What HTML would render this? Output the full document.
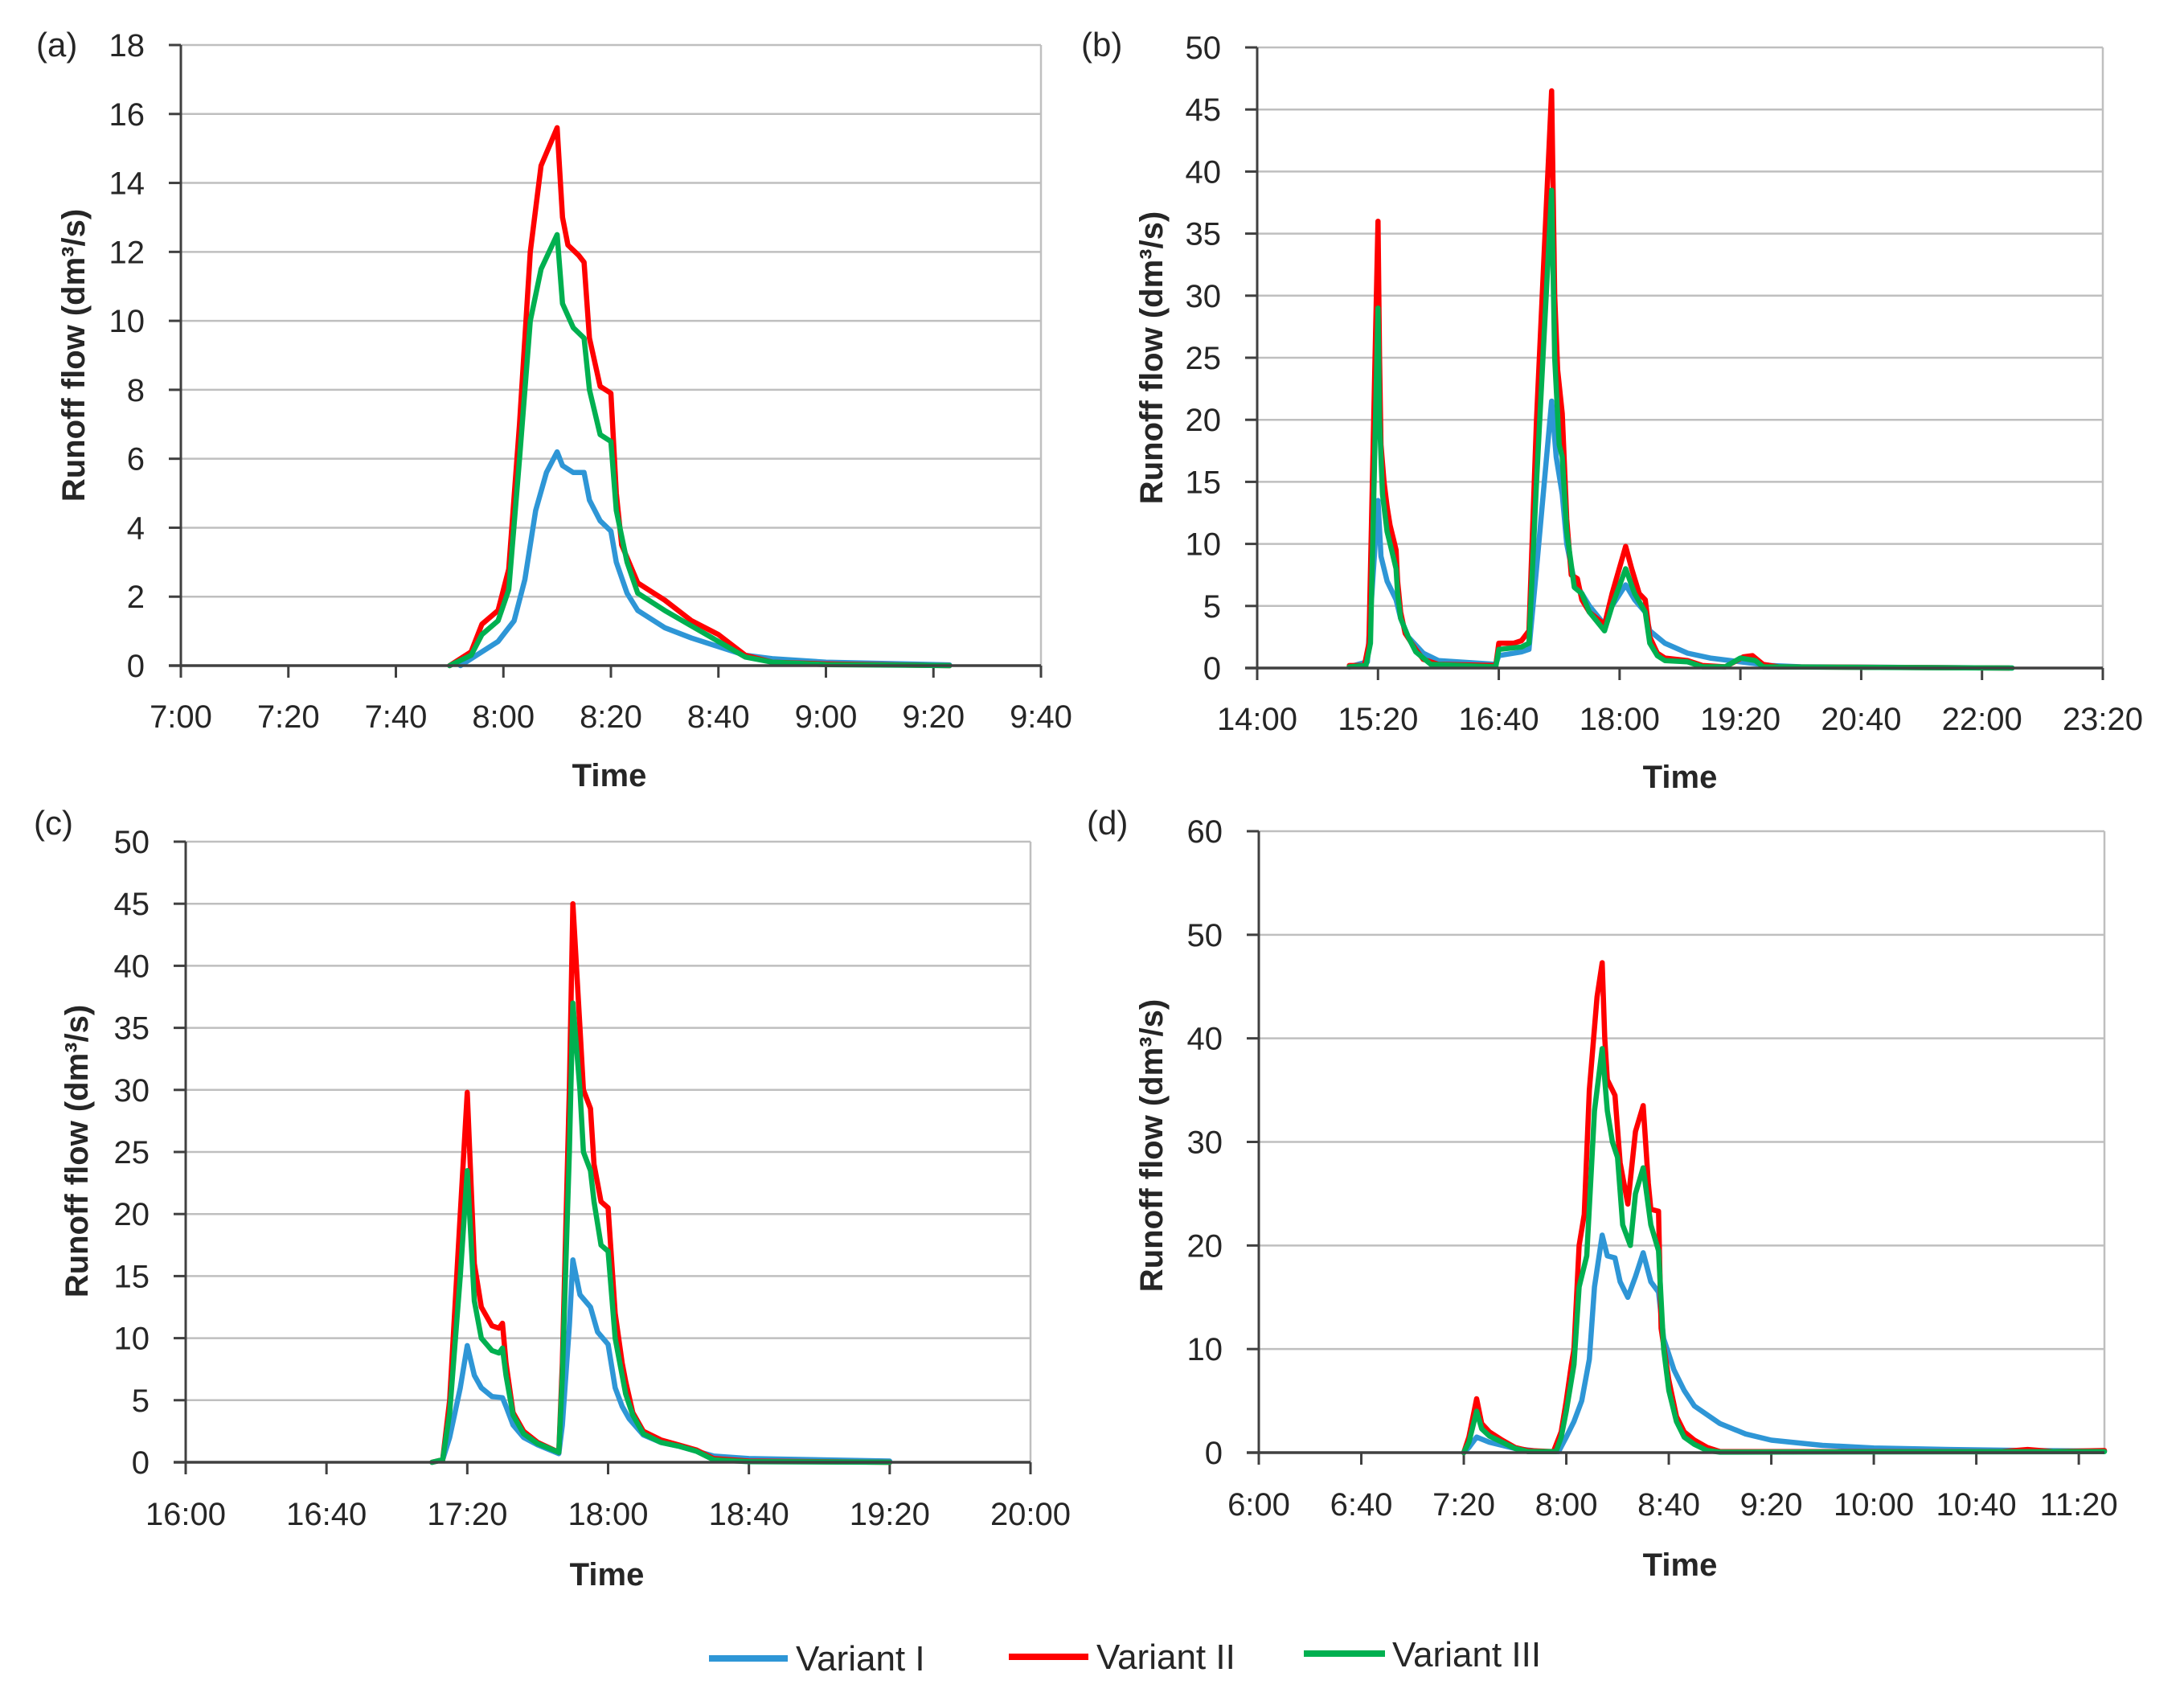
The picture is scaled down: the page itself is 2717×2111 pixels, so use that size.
<!DOCTYPE html>
<html><head><meta charset="utf-8"><style>
html,body{margin:0;padding:0;background:#fff}
svg{display:block}
text{font-family:"Liberation Sans",sans-serif;fill:#262626}
</style></head><body>
<svg id="fig" width="2717" height="2111" viewBox="0 0 2717 2111" xmlns="http://www.w3.org/2000/svg">
<g id="legend">
<line x1="882" y1="2063" x2="980" y2="2063" stroke="#2e96d6" stroke-width="8"/>
<text x="990" y="2078" font-size="44">Variant I</text>
<line x1="1255" y1="2061" x2="1354" y2="2061" stroke="#ff0000" stroke-width="8"/>
<text x="1364" y="2076" font-size="44">Variant II</text>
<line x1="1622" y1="2057" x2="1723" y2="2057" stroke="#00b050" stroke-width="8"/>
<text x="1732" y="2073" font-size="44">Variant III</text>
</g>
</svg>
<script>
// ---- Panel (a) data ----
const aTimes1 = ["7:52","7:55","7:59","8:02","8:04","8:06","8:08","8:10","8:11","8:13","8:15","8:16","8:18","8:20","8:21","8:23","8:25","8:30","8:35","8:40","8:45","8:50","9:00","9:23"];
const aVals1  = [0,0.3,0.7,1.3,2.5,4.5,5.6,6.2,5.8,5.6,5.6,4.8,4.2,3.9,3.0,2.1,1.6,1.1,0.8,0.55,0.3,0.2,0.1,0.02];
const aTimes2 = ["7:50","7:54","7:56","7:59","8:01","8:03","8:05","8:07","8:10","8:11","8:12","8:14","8:15","8:16","8:18","8:20","8:21","8:22","8:25","8:30","8:35","8:40","8:45","8:50","9:00","9:23"];
const aVals2  = [0,0.4,1.2,1.6,2.8,7,12,14.5,15.6,13,12.2,11.9,11.7,9.5,8.1,7.9,5,3.5,2.4,1.9,1.3,0.9,0.3,0.1,0.05,0];
const aTimes3 = ["7:50","7:54","7:56","7:59","8:01","8:03","8:05","8:07","8:10","8:11","8:13","8:15","8:16","8:18","8:20","8:21","8:23","8:25","8:30","8:35","8:40","8:45","8:50","9:00","9:23"];
const aVals3  = [0,0.3,0.9,1.3,2.2,6,10,11.5,12.5,10.5,9.8,9.5,8,6.7,6.5,4.5,3,2.1,1.6,1.15,0.7,0.25,0.1,0.03,0];
const aYTicks = [0,2,4,6,8,10,12,14,16,18];
const aXTicks = ["7:00","7:20","7:40","8:00","8:20","8:40","9:00","9:20","9:40"];

// ---- Panel (b) data ----
const bTimes1 = ["15:01","15:13","15:20","15:22","15:26","15:32","15:35","15:40","15:50","16:00","16:38","16:40","16:55","17:00","17:05","17:15","17:18","17:22","17:25","17:30","17:40","17:50","17:55","18:04","18:10","18:17","18:20","18:30","18:45","19:00","19:20","19:40","20:00","22:20"];
const bVals1  = [0.1,0.5,13.5,9,7,5.5,4,2.5,1.2,0.6,0.3,1,1.3,1.5,8,21.5,17,14,10,7,5,3.5,5,6.7,5.5,4.5,3,2,1.2,0.8,0.5,0.2,0.1,0];
const bTimes2 = ["15:01","15:11","15:14","15:20","15:21","15:22","15:24","15:26","15:28","15:30","15:32","15:33","15:35","15:38","15:45","15:50","16:00","16:38","16:40","16:50","16:55","17:00","17:05","17:15","17:17","17:19","17:22","17:25","17:28","17:32","17:35","17:40","17:50","17:55","18:04","18:08","18:13","18:17","18:20","18:25","18:30","18:45","18:55","19:10","19:22","19:28","19:35","19:45","22:18"];
const bVals2  = [0.2,0.2,2,36,25,18,15,13,11.5,10.5,9.5,7,4.5,2.8,1.5,0.7,0.3,0.2,2,2,2.2,3,20,46.5,30,24,20.5,12,7.5,7.2,5.5,4.5,3.5,6,9.8,8,6,5.5,2.5,1.2,0.8,0.6,0.2,0.1,0.9,1,0.3,0.1,0];
const bTimes3 = ["15:01","15:12","15:15","15:20","15:21","15:23","15:26","15:30","15:32","15:33","15:35","15:40","15:45","15:55","16:38","16:40","16:55","17:00","17:05","17:15","17:17","17:20","17:22","17:25","17:30","17:35","17:40","17:50","17:55","18:04","18:10","18:17","18:20","18:25","18:30","18:45","18:55","19:10","19:20","19:30","19:35","22:20"];
const bVals3  = [0.1,0.2,2,29,20,14,11,9,8,6,4,2.5,1.3,0.3,0.1,1.5,1.7,2,15,38.5,25,18,17,11,6.5,6,4.5,3,5,8,6,4.5,2,1,0.6,0.5,0.1,0.1,0.8,0.6,0.1,0];
const bYTicks = [0,5,10,15,20,25,30,35,40,45,50];
const bXTicks = ["14:00","15:20","16:40","18:00","19:20","20:40","22:00","23:20"];

// ---- Panel (c) data ----
const cTimes1 = ["17:10","17:13","17:15","17:18","17:20","17:22","17:24","17:27","17:30","17:31","17:33","17:36","17:40","17:46","17:47","17:49","17:50","17:52","17:55","17:57","18:00","18:02","18:04","18:06","18:10","18:15","18:20","18:25","18:30","18:40","19:20"];
const cVals1  = [0,0.2,2,6,9.4,7,6,5.3,5.2,4.5,3,2,1.4,0.7,3,11,16.3,13.5,12.5,10.5,9.5,6,4.5,3.5,2.2,1.6,1.3,0.9,0.5,0.3,0.1];
const cTimes2 = ["17:10","17:13","17:15","17:18","17:20","17:22","17:24","17:27","17:29","17:30","17:31","17:33","17:36","17:40","17:46","17:47","17:49","17:50","17:52","17:53","17:55","17:56","17:58","18:00","18:02","18:04","18:05","18:07","18:10","18:15","18:20","18:25","18:30","18:40","19:20"];
const cVals2  = [0,0.2,5,20,29.8,16,12.5,11,10.8,11.2,8,4,2.5,1.6,0.8,8,30,45,35,30,28.5,24,21,20.5,12,8,6.5,4,2.5,1.8,1.4,1,0.3,0.1,0];
const cTimes3 = cTimes2;
const cVals3  = [0,0.2,4,15,23.5,13,10,9,8.8,9.2,7,3.8,2.3,1.5,0.8,7,25,37,30,25,23.5,21,17.5,17,10,7,5.5,3.8,2.3,1.6,1.3,0.9,0.2,0.05,0];
const cYTicks = [0,5,10,15,20,25,30,35,40,45,50];
const cXTicks = ["16:00","16:40","17:20","18:00","18:40","19:20","20:00"];

// ---- Panel (d) data ----
const dTimes1 = ["7:20","7:22","7:25","7:30","7:40","7:50","7:57","8:00","8:03","8:06","8:09","8:11","8:14","8:16","8:19","8:21","8:24","8:27","8:30","8:33","8:36","8:38","8:42","8:46","8:50","9:00","9:10","9:20","9:40","10:00","10:30","11:00","11:30"];
const dVals1  = [0,0.5,1.5,1,0.4,0.1,0.1,1.5,3,5,9,16,21,19,18.8,16.5,15,17,19.3,16.5,15.5,11,8,6,4.5,2.8,1.8,1.2,0.7,0.45,0.3,0.2,0.15];
const dTimes2 = ["7:20","7:22","7:25","7:27","7:30","7:35","7:40","7:45","7:55","7:58","8:00","8:02","8:03","8:05","8:07","8:09","8:12","8:14","8:15","8:16","8:19","8:21","8:24","8:27","8:30","8:32","8:33","8:36","8:37","8:40","8:43","8:46","8:50","8:55","9:00","10:50","11:00","11:10","11:30"];
const dVals2  = [0,1.5,5.2,2.8,2,1.2,0.5,0.2,0.1,2,5,8.5,10,20,23,35,44,47.3,40,36,34.5,28,24,31,33.5,26,23.5,23.3,12,7,3.5,2,1.2,0.5,0.1,0.1,0.3,0.1,0.2];
const dTimes3 = ["7:20","7:22","7:25","7:27","7:30","7:35","7:40","7:45","7:56","7:58","8:00","8:03","8:05","8:08","8:11","8:14","8:16","8:18","8:20","8:22","8:25","8:27","8:30","8:33","8:36","8:38","8:40","8:43","8:46","8:50","8:55","9:00","11:30"];
const dVals3  = [0,1,4,2.3,1.6,1,0.4,0.1,0.1,1.5,4,8.5,16,19,33,39,33,30,28.5,22,20,25,27.5,22,19.5,10,6,3,1.5,0.8,0.2,0.05,0.1];
const dYTicks = [0,10,20,30,40,50,60];
const dXTicks = ["6:00","6:40","7:20","8:00","8:40","9:20","10:00","10:40","11:20"];

const NS = "http://www.w3.org/2000/svg";
const svg = document.getElementById("fig");
function mins(t){const p=t.split(":");return (+p[0])*60+(+p[1]);}
function mk(tag, attrs, parent){const e=document.createElementNS(NS,tag);for(const k in attrs)e.setAttribute(k,attrs[k]);(parent||svg).appendChild(e);return e;}

const panels = [
 {id:"a",L:225,R:1295,T:56,B:828,x0:"7:00",x1:"9:40",yT:aYTicks,xT:aXTicks,ser:[[aTimes1,aVals1],[aTimes2,aVals2],[aTimes3,aVals3]],lab:[45,70],yt:[91,442],tt:[758,978],tb:905},
 {id:"b",L:1564,R:2616,T:59,B:831,x0:"14:00",x1:"23:20",yT:bYTicks,xT:bXTicks,ser:[[bTimes1,bVals1],[bTimes2,bVals2],[bTimes3,bVals3]],lab:[1345,70],yt:[1432,445],tt:[2090,980],tb:908},
 {id:"c",L:231,R:1282,T:1047,B:1819,x0:"16:00",x1:"20:00",yT:cYTicks,xT:cXTicks,ser:[[cTimes1,cVals1],[cTimes2,cVals2],[cTimes3,cVals3]],lab:[42,1038],yt:[95,1432],tt:[755,1972],tb:1897},
 {id:"d",L:1566,R:2618,T:1034,B:1807,x0:"6:00",x1:"11:30",yT:dYTicks,xT:dXTicks,ser:[[dTimes1,dVals1],[dTimes2,dVals2],[dTimes3,dVals3]],lab:[1352,1038],yt:[1432,1425],tt:[2090,1960],tb:1885}
];
const colors=["#2e96d6","#ff0000","#00b050"];
const names=["variant-i","variant-ii","variant-iii"];

panels.forEach(p=>{
  const g=mk("g",{});
  
  
  const xmin=mins(p.x0), xmax=mins(p.x1), ymax=p.yT[p.yT.length-1];
  const xs=m=>p.L+(m-xmin)/(xmax-xmin)*(p.R-p.L);
  const ys=v=>p.B-v/ymax*(p.B-p.T);
  p.yT.forEach(v=>{
    if(v===0) return;
    const l=mk("line",{x1:p.L,x2:p.R,y1:ys(v),y2:ys(v),stroke:"#bfbfbf","stroke-width":2.5},g);
    
    
  });
  const rb=mk("line",{x1:p.R,x2:p.R,y1:p.T,y2:p.B,stroke:"#bfbfbf","stroke-width":2.5},g);
  
  
  p.yT.forEach(v=>{
    const t=mk("text",{x:p.L-45,y:ys(v)+14,"font-size":40,"text-anchor":"end"},g);
    t.textContent=v;
    
    
    const tk=mk("line",{x1:p.L-15,x2:p.L,y1:ys(v),y2:ys(v),stroke:"#404040","stroke-width":3},g);
    
    
  });
  p.xT.forEach(s=>{
    const x=xs(mins(s));
    const tk=mk("line",{x1:x,x2:x,y1:p.B,y2:p.B+15,stroke:"#404040","stroke-width":3},g);
    
    
    const t=mk("text",{x:x,y:p.tb,"font-size":40,"text-anchor":"middle"},g);
    t.textContent=s;
    
    
  });
  p.ser.forEach((sr,i)=>{
    const pts=sr[0].map((t,k)=>xs(mins(t)).toFixed(1)+","+ys(sr[1][k]).toFixed(1)).join(" ");
    const pl=mk("polyline",{points:pts,fill:"none",stroke:colors[i],"stroke-width":6.5,"stroke-linejoin":"round","stroke-linecap":"round"},g);
    
    
  });
  const ya=mk("line",{x1:p.L,x2:p.L,y1:p.T,y2:p.B+15,stroke:"#404040","stroke-width":3},g);
  
  
  const xa=mk("line",{x1:p.L-15,x2:p.R,y1:p.B,y2:p.B,stroke:"#404040","stroke-width":3.5},g);
  
  
  const yt=mk("text",{x:p.yt[0],y:p.yt[1],"font-size":40,"font-weight":"bold","text-anchor":"middle",transform:"rotate(-90 "+(p.yt[0])+" "+p.yt[1]+")",dy:14},g);
  yt.textContent="Runoff flow (dm³/s)";
  
  
  const xt=mk("text",{x:p.tt[0],y:p.tt[1],"font-size":40,"font-weight":"bold","text-anchor":"middle"},g);
  xt.textContent="Time";
  
  
  const lb=mk("text",{x:p.lab[0],y:p.lab[1],"font-size":42},g);
  lb.textContent="("+p.id+")";
  
  
});
</script>
</body></html>
